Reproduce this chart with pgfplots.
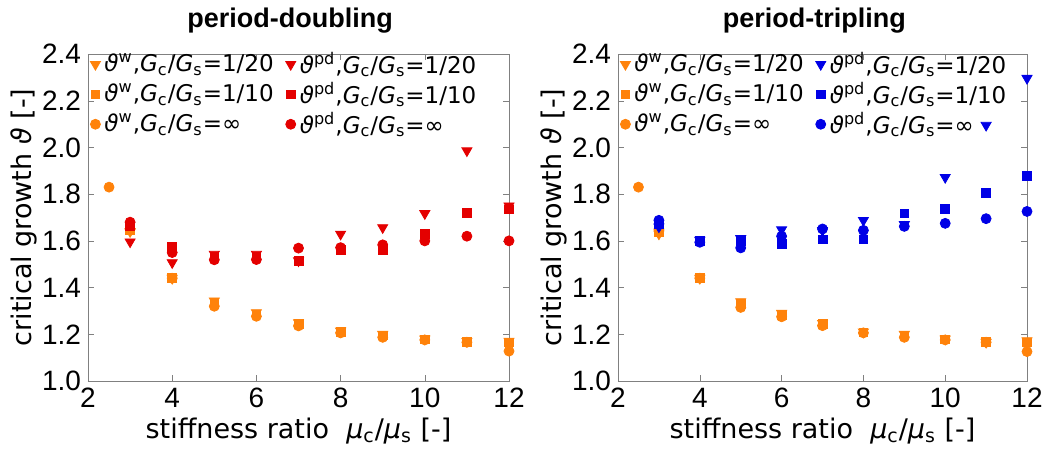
\documentclass[border=0pt]{standalone}
\usepackage{fontspec}
\setmainfont{Liberation Sans}
\newfontfamily\dv{DejaVu Sans}
\usepackage{pgfplots}
\pgfplotsset{compat=1.18}
\definecolor{cw}{RGB}{255,130,10}
\definecolor{cred}{RGB}{228,0,0}
\definecolor{cblue}{RGB}{0,0,230}

\newcommand{\leg}[2]{{\itshape ϑ}\textsuperscript{#1},{\itshape G}\textsubscript{c}/{\itshape G}\textsubscript{s}=#2}

\pgfplotsset{
  myax/.style={
    scale only axis,
    height=163.5pt,
    xmin=2, xmax=12, ymin=1.0, ymax=2.4,
    xtick={2,4,...,12},
    ytick={1.0,1.2,...,2.4},
    yticklabel style={/pgf/number format/.cd, fixed, fixed zerofill, precision=1},
    /pgf/number format/assume math mode=true,
    tick label style={font=\fontsize{14}{14}\selectfont},
    tick align=inside, major tick length=3pt,
    axis line style={gray}, tick style={gray},
    clip=false,
    label style={font=\dv\fontsize{13.5}{14}\selectfont},
    xlabel={stiffness ratio\ \ {\itshape μ}\textsubscript{c}/{\itshape μ}\textsubscript{s} [-]},
    ylabel={critical growth {\itshape ϑ} [-]},
    ylabel style={at={(axis description cs:0,0.5)}, anchor=center, yshift=32pt},
    xlabel style={at={(axis description cs:0.5,0)}, anchor=base, yshift=-28.5pt},
    title style={font=\bfseries\fontsize{13.5}{14}\selectfont, at={(axis description cs:0.48,1)}, anchor=base, yshift=7.5pt},
    legend columns=3,
    legend style={transpose legend, at={(axis description cs:0,1)}, anchor=north west,
      yshift=4pt, draw=none, fill=none, font=\dv\fontsize{11.5}{13}\selectfont,
      inner sep=1pt, row sep=-1pt,
      /tikz/every even column/.append style={column sep=4pt}},
    legend cell align=left,
    wtri/.style={only marks, mark=triangle*, mark size=2.9pt, mark options={rotate=180}},
    wsq/.style={only marks, mark=square*, mark size=2.2pt},
    wci/.style={only marks, mark=*, mark size=2.5pt},
  }
}

\begin{document}
\begin{tikzpicture}
\path[use as bounding box] (-44pt,-35.5pt) rectangle (480pt,190.5pt);

\begin{axis}[myax, width=210.5pt, at={(0,0)}, title={period-doubling}]
\addplot[wtri, color=cw] coordinates {(3,1.64)(4,1.44)(5,1.343)(6,1.293)(7,1.25)(8,1.214)(9,1.2)(10,1.18)(11,1.17)(12,1.171)};
\addplot[wsq, color=cw] coordinates {(3,1.645)(4,1.44)(5,1.33)(6,1.285)(7,1.245)(8,1.21)(9,1.195)(10,1.178)(11,1.168)(12,1.165)};
\addplot[wci, color=cw] coordinates {(2.5,1.83)(3,1.65)(4,1.44)(5,1.32)(6,1.277)(7,1.236)(8,1.206)(9,1.187)(10,1.176)(11,1.166)(12,1.128)};
\addplot[wtri, color=cred] coordinates {(3,1.596)(4,1.507)(5,1.543)(6,1.543)(7,1.515)(8,1.629)(9,1.657)(10,1.717)(11,1.986)(12,1.75)};
\addplot[wsq, color=cred] coordinates {(3,1.665)(4,1.575)(5,1.53)(6,1.53)(7,1.514)(8,1.56)(9,1.56)(10,1.63)(11,1.72)(12,1.735)};
\addplot[wci, color=cred] coordinates {(3,1.68)(4,1.55)(5,1.519)(6,1.52)(7,1.569)(8,1.571)(9,1.583)(10,1.6)(11,1.62)(12,1.60)};
\legend{\leg{w}{1/20},\leg{w}{1/10},\leg{w}{∞},\leg{pd}{1/20},\leg{pd}{1/10},\leg{pd}{∞}}
\end{axis}

\begin{axis}[myax, width=204.5pt, at={(265pt,0)}, title={period-tripling}]
\addplot[wtri, color=cw] coordinates {(3,1.63)(4,1.44)(5,1.34)(6,1.29)(7,1.247)(8,1.21)(9,1.2)(10,1.18)(11,1.166)(12,1.173)};
\addplot[wsq, color=cw] coordinates {(3,1.64)(4,1.44)(5,1.33)(6,1.283)(7,1.243)(8,1.208)(9,1.195)(10,1.178)(11,1.166)(12,1.165)};
\addplot[wci, color=cw] coordinates {(2.5,1.83)(3,1.65)(4,1.44)(5,1.315)(6,1.275)(7,1.237)(8,1.206)(9,1.187)(10,1.176)(11,1.166)(12,1.126)};
\addplot[wtri, color=cblue] coordinates {(3,1.66)(4,1.603)(5,1.61)(6,1.648)(7,1.645)(8,1.688)(9,1.67)(10,1.872)(11,2.095)(12,2.296)};
\addplot[wsq, color=cblue] coordinates {(3,1.672)(4,1.60)(5,1.60)(6,1.587)(7,1.606)(8,1.606)(9,1.718)(10,1.738)(11,1.807)(12,1.878)};
\addplot[wci, color=cblue] coordinates {(3,1.688)(4,1.594)(5,1.57)(6,1.62)(7,1.651)(8,1.645)(9,1.662)(10,1.675)(11,1.695)(12,1.726)};
\legend{\leg{w}{1/20},\leg{w}{1/10},\leg{w}{∞},\leg{pd}{1/20},\leg{pd}{1/10},\leg{pd}{∞}}
\end{axis}
\end{tikzpicture}
\end{document}
